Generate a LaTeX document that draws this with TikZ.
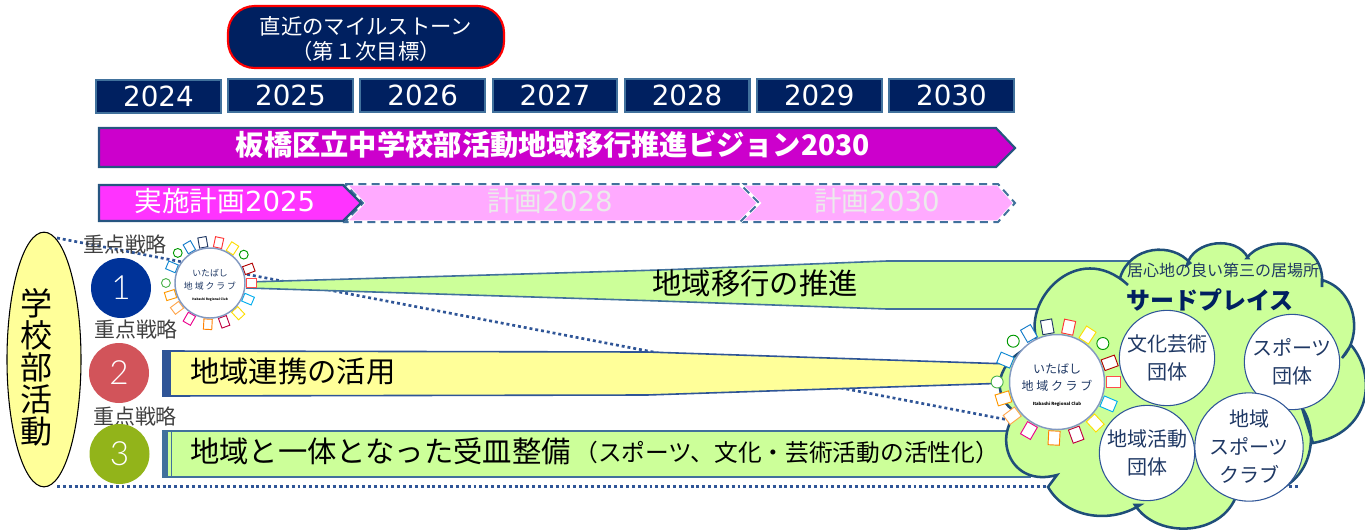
\documentclass[tikz,border=0pt]{standalone}
\usepackage{fontspec}
\setmainfont{Noto Sans CJK JP}
\newfontfamily\yearfont{DejaVu Sans}
\newfontfamily\numfont[UprightFont={* Light}]{Lato}
\usetikzlibrary{shapes.geometric, calc}
\definecolor{navyfill}{HTML}{002060}
\definecolor{barline}{HTML}{41719C}
\definecolor{deepline}{HTML}{2F5597}
\definecolor{cloudline}{HTML}{1F4E79}
\definecolor{inktext}{HTML}{1F3864}
\definecolor{limefill}{HTML}{CCFF99}
\definecolor{lemonfill}{HTML}{FFFF99}
\definecolor{visionfill}{HTML}{CC00CC}
\definecolor{planfill}{HTML}{FF33FF}
\definecolor{planpale}{HTML}{FFAAFF}
\definecolor{numblue}{HTML}{003399}
\definecolor{numred}{HTML}{D2545A}
\definecolor{numgreen}{HTML}{92B41A}
\newcommand{\clublogo}[4]{
    \pgfmathsetmacro{\logoscale}{#4/47.5}
    \coordinate (#1) at (#2,#3);
    \foreach \ang/\col in {100/inktext, 78/red!80, 57/yellow!80!orange, 20/red!70!black, 0/red!70, -23/cyan, -47/yellow!80!orange, -70/purple, -93/orange, -120/magenta, -143/orange!70, -163/orange!80!yellow, 157/cyan!70!blue, 120/cyan!60!blue}
        \node[hut, draw=\col, scale=\logoscale, rotate=\ang-90] (#1h\ang) at ($(#1)+({#4*1.18*cos(\ang)},{-#4*1.18*sin(\ang)})$) {};
    \foreach \ang/\col in {40/green!60!black, 137/green!60!black, 180/green!40!gray}
        \node[tree, draw=\col, scale=\logoscale] (#1t\ang) at ($(#1)+({#4*1.26*cos(\ang)},{-#4*1.26*sin(\ang)})$) {};
    \node[circle, draw=deepline!60, line width=1.1pt, fill=white, minimum size=2*#4*0.75pt, inner sep=0pt] (#1ring) at (#1) {};
    \node[logotext, scale=\logoscale] (#1a) at ($(#1)+(0,{-0.27*#4})$) {いたばし};
    \node[logotext, scale=\logoscale] (#1b) at ($(#1)+(0,{0.08*#4})$) {地\kern2pt 域\kern2pt ク\kern2pt ラ\kern2pt ブ};
    \node[scale=\logoscale, font=\fontsize{3.2}{4}\selectfont\bfseries, inner sep=0pt] (#1c) at ($(#1)+(0,{0.47*#4})$) {Itabashi Regional Club};
}

\begin{document}
\begin{tikzpicture}[x=0.75pt, y=-0.75pt,
    yearbox/.style={draw=barline, fill=navyfill, line width=1.6pt, minimum width=93.5pt, minimum height=25pt, inner sep=0pt, text=white, font=\yearfont\fontsize{20.8}{24}\selectfont},
    barshape/.style={draw=cloudline!80!barline, line width=1.6pt},
    planshape/.style={draw=barline, line width=1.5pt, dash pattern=on 6pt off 4pt},
    planhalo/.style={draw=white, line width=2.6pt, fill=planpale},
    plantext/.style={inner sep=0pt, font=\fontsize{20.7}{24}\selectfont},
    strategy/.style={inner sep=0pt, text=black!75, font=\fontsize{15.7}{18}\selectfont},
    numdot/.style={circle, minimum size=45pt, inner sep=0pt, text=white, font=\numfont\fontsize{25}{28}\selectfont},
    bigtext/.style={inner sep=0pt, font=\fontsize{22}{26}\selectfont},
    taper/.style={draw=barline, line width=1.2pt},
    dotline/.style={draw=deepline, line width=2pt, dash pattern=on 2.2pt off 2.2pt},
    groupdot/.style={circle, draw=deepline, line width=0.8pt, fill=white, minimum size=71.5pt, inner sep=0pt, align=center, text=inktext, font=\fontsize{15}{21}\selectfont},
    hut/.style={draw, fill=white, line width=0.7pt, minimum width=8.5pt, minimum height=10.5pt, inner sep=0pt, transform shape},
    tree/.style={circle, draw, fill=white, line width=0.7pt, minimum size=9pt, inner sep=0pt, transform shape},
    logotext/.style={inner sep=0pt, text=inktext, font=\fontsize{9}{11}\selectfont}
]
    \useasboundingbox (0,0) rectangle (1365,529);

    \node[draw=red, fill=navyfill, line width=1.6pt, rounded corners=20pt, minimum width=207pt, minimum height=46.5pt] (milestone) at (366,37) {};
    \node[align=center, text=white, inner sep=0pt, font=\fontsize{16}{18.8}\selectfont] (milestonetext) at (366,39) {直近のマイルストーン\\（第１次目標）};

    \node[yearbox] (y2024) at (158.5,96.5) {2024};
    \foreach \yr [count=\i from 0] in {2025,2026,2027,2028,2029,2030}
        \node[yearbox] (y\yr) at ({290.5+132.2*\i},95.5) {\yr};

    \draw[barshape, fill=visionfill] (99,128) -- (996,128) -- (1015,148) -- (996,167) -- (99,167) -- cycle;
    \node[inner sep=0pt, text=white, font=\fontsize{21.2}{25}\selectfont\bfseries] (vision) at (553,145) {板橋区立中学校部活動地域移行推進ビジョン2030};

    \draw[planhalo] (739,184) -- (998,184) -- (1015,203) -- (998,222) -- (739,222) -- (757,203) -- cycle;
    \draw[planshape] (739,184) -- (998,184) -- (1015,203) -- (998,222) -- (739,222) -- (757,203) -- cycle;
    \draw[planhalo] (345,184) -- (740,184) -- (759,203) -- (740,222) -- (345,222) -- (363,203) -- cycle;
    \draw[planshape] (345,184) -- (740,184) -- (759,203) -- (740,222) -- (345,222) -- (363,203) -- cycle;
    \draw[barshape, fill=planfill] (99,185) -- (343,185) -- (361,203) -- (343,221) -- (99,221) -- cycle;
    \node[plantext, text=white] (plan25) at (225,201) {実施計画{\yearfont 2025}};
    \node[plantext, text=white!92!black] (plan28) at (550,201) {計画{\yearfont 2028}};
    \node[plantext, text=white!92!black] (plan30) at (877,201) {計画{\yearfont 2030}};

    \coordinate (dotA) at (57,238);
    \coordinate (dotB) at (1040,426);
    \coordinate (dotC) at (57,486.5);
    \coordinate (dotD) at (1299,486.5);
    \draw[dotline] (dotA) -- (dotB);
    \draw[dotline] (dotC) -- (dotD);

    \node[ellipse, draw=black, line width=0.8pt, fill=lemonfill, minimum width=55.5pt, minimum height=191pt, inner sep=0pt] (school) at (44,359.5) {};
    \node[inner sep=0pt, align=center, font=\fontsize{24}{24}\selectfont] (schooltext) at (37,367) {学\\校\\部\\活\\動};

    \node[strategy] (tag1) at (125,245) {重点戦略};
    \node[strategy] (tag2) at (136,330) {重点戦略};
    \node[strategy] (tag3) at (135,417) {重点戦略};
    \node[numdot, fill=numblue] (num1) at (121,288) {1};
    \node[numdot, fill=numred] (num2) at (119,373) {2};
    \node[numdot, fill=numgreen] (num3) at (119.5,454) {3};

    \draw[taper, fill=limefill] (247,282) -- (660,270) -- (887,261) -- (1140,261) -- (1140,309) -- (887,309) -- (660,301) -- (247,288) -- cycle;
    \node[bigtext] (push) at (755,283) {地域移行の推進};

    \draw[taper, draw=deepline, fill=lemonfill] (163,351) -- (647,352) -- (1010,364) -- (1010,383) -- (647,395) -- (163,396) -- cycle;
    \fill[deepline] (163,351) rectangle (171,396);
    \node[bigtext, anchor=west] (link) at (190,371) {地域連携の活用};

    \draw[taper, fill=limefill] (163,431) rectangle (1030,477);
    \fill[barline] (163,431) rectangle (168,477);
    \draw[barline, line width=1pt] (171.5,431) -- (171.5,477);
    \node[bigtext, anchor=west] (basis) at (190,451) {地域と一体となった受皿整備};
    \node[inner sep=0pt, anchor=west, font=\fontsize{17.8}{20}\selectfont] (basisnote) at (574,452) {（スポーツ、文化・芸術活動の活性化）};

    \draw[cloudline, line width=1.9pt, fill=limefill]
        (1038,343) .. controls (1020,302) and (1077,238) .. (1128,285)
        -- (1120,278) .. controls (1130,245) and (1173,242) .. (1190,263)
        -- (1187,265) .. controls (1193,240) and (1237,235) .. (1248,258)
        -- (1247,258) .. controls (1260,237) and (1327,233) .. (1322,287)
        -- (1322,280) .. controls (1357,290) and (1363,337) .. (1342,358)
        -- (1351,345) .. controls (1378,377) and (1370,433) .. (1313,443)
        -- (1302,408) .. controls (1323,437) and (1308,500) .. (1247,493)
        -- (1238,490) .. controls (1227,537) and (1157,540) .. (1135,505)
        -- (1140,505) .. controls (1113,523) and (1067,520) .. (1048,487)
        -- (1057,475) .. controls (1010,488) and (993,437) .. (1017,413)
        .. controls (990,397) and (993,360) .. (1038,343) -- cycle;

    \clublogo{smalllogo}{210}{283}{35}
    \clublogo{biglogo}{1057}{382}{47.5}

    \node[inner sep=0pt, text=inktext, font=\fontsize{12}{14}\selectfont] (thirdsub) at (1223,270) {居心地の良い第三の居場所};
    \node[inner sep=0pt, text=navyfill, font=\fontsize{18}{22}\selectfont\bfseries] (third) at (1210,300) {サードプレイス};

    \node[groupdot] (art) at (1167,358) {文化芸術\\団体};
    \node[groupdot] (sport) at (1292,362) {スポーツ\\団体};
    \node[groupdot] (local) at (1147,453) {地域活動\\団体};
    \node[groupdot] (club) at (1249,447) {地域\\スポーツ\\クラブ};
\end{tikzpicture}
\end{document}
